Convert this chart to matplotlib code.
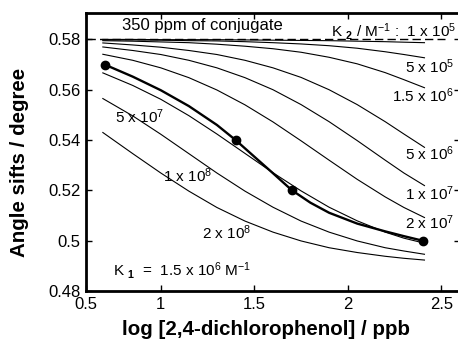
import matplotlib
matplotlib.use("Agg")
import matplotlib.pyplot as plt

plt.rcParams['font.family'] = ['Liberation Sans', 'DejaVu Sans']
plt.rcParams['mathtext.fontset'] = 'custom'
plt.rcParams['mathtext.rm'] = 'Liberation Sans'
plt.rcParams['mathtext.it'] = 'Liberation Sans'
plt.rcParams['mathtext.bf'] = 'Liberation Sans:bold'

# ---- data ----
curve_x = [0.69, 0.85, 1.0, 1.15, 1.3, 1.45, 1.6, 1.75, 1.9, 2.05, 2.2, 2.3, 2.41]
k2_1e5 = [0.5800, 0.5800, 0.5799, 0.5799, 0.5799, 0.5798, 0.5797, 0.5796, 0.5795, 0.5793, 0.5791, 0.5789, 0.5787]
k2_5e5 = [0.5798, 0.5798, 0.5797, 0.5795, 0.5794, 0.5791, 0.5787, 0.5782, 0.5775, 0.5765, 0.5751, 0.5740, 0.5727]
k2_15e6 = [0.5795, 0.5793, 0.5790, 0.5787, 0.5781, 0.5773, 0.5763, 0.5749, 0.5729, 0.5703, 0.5668, 0.5640, 0.5608]
k2_5e6 = [0.5786, 0.5778, 0.5769, 0.5756, 0.5740, 0.5717, 0.5687, 0.5649, 0.5600, 0.5541, 0.5473, 0.5424, 0.5371]
k2_1e7 = [0.5770, 0.5756, 0.5740, 0.5717, 0.5687, 0.5648, 0.5600, 0.5541, 0.5473, 0.5398, 0.5320, 0.5269, 0.5219]
k2_2e7 = [0.5741, 0.5717, 0.5687, 0.5648, 0.5599, 0.5540, 0.5472, 0.5397, 0.5320, 0.5244, 0.5174, 0.5132, 0.5092]
k2_5e7 = [0.5667, 0.5617, 0.5562, 0.5497, 0.5424, 0.5347, 0.5270, 0.5198, 0.5133, 0.5079, 0.5034, 0.5010, 0.4990]
k2_1e8 = [0.5565, 0.5496, 0.5423, 0.5346, 0.5269, 0.5197, 0.5133, 0.5078, 0.5034, 0.4999, 0.4972, 0.4959, 0.4946]
k2_2e8 = [0.5430, 0.5346, 0.5269, 0.5197, 0.5132, 0.5078, 0.5034, 0.4999, 0.4972, 0.4953, 0.4938, 0.4930, 0.4923]
curves = [k2_1e5, k2_5e5, k2_15e6, k2_5e6, k2_1e7, k2_2e7, k2_5e7, k2_1e8, k2_2e8]

conj_x = [0.605, 2.52]
conj_y = [0.58, 0.58]

exp_line_x = [0.7, 0.85, 1.0, 1.15, 1.3, 1.4, 1.5, 1.6, 1.7, 1.8, 1.9, 2.05, 2.2, 2.3, 2.4]
exp_line_y = [0.5700, 0.5652, 0.5598, 0.5535, 0.5460, 0.5400, 0.5334, 0.5268, 0.5201, 0.5151, 0.5111, 0.5068, 0.5037, 0.5018, 0.5000]
exp_x = [0.7, 1.4, 1.7, 2.4]
exp_y = [0.570, 0.540, 0.520, 0.500]

xticks = [0.6, 1.0, 1.5, 2.0, 2.5]
xtick_labels = ['0.5', '1', '1.5', '2', '2.5']
yticks = [0.48, 0.50, 0.52, 0.54, 0.56, 0.58]
ytick_labels = ['0.48', '0.5', '0.52', '0.54', '0.56', '0.58']

W, H = 458, 340
fig = plt.figure(figsize=(W / 100, H / 100), dpi=100)
ax = fig.add_axes([86 / W, (H - 291) / H, 374 / W, 278 / H])

for c in curves:
    ax.plot(curve_x, c, color='black', lw=0.8, solid_joinstyle='round')
ax.plot(conj_x, conj_y, color='black', lw=1.0, dashes=(6, 3))
ax.plot(exp_line_x, exp_line_y, color='black', lw=1.7, solid_joinstyle='round')
ax.plot(exp_x, exp_y, 'o', color='black', ms=6)

ax.set_xlim(0.6, 2.6)
ax.set_ylim(0.48, 0.5905)
ax.set_xticks(xticks)
ax.set_xticklabels(xtick_labels)
ax.set_yticks(yticks)
ax.set_yticklabels(ytick_labels)
ax.tick_params(direction='in', length=4, width=1, labelsize=12,
               top=True, right=True, pad=4)
for s in ax.spines.values():
    s.set_linewidth(2)

ax.set_xlabel('log [2,4-dichlorophenol] / ppb', fontsize=14.8, fontweight='bold', labelpad=6)
ax.xaxis.label.set_x(0.4826)
ax.set_ylabel('Angle sifts / degree', fontsize=14.8, fontweight='bold')
ax.yaxis.set_label_coords(-0.152, 0.462)

fs = 11
ax.text(0.791, 0.5837, '350 ppm of conjugate', fontsize=12, va='baseline', ha='left')
ax.text(2.578, 0.5811, r'K $_{\mathbf{2}}$ / M$^{-1}$ :  1 x 10$^{5}$', fontsize=fs, va='baseline', ha='right')
ax.text(2.567, 0.5667, r'5 x 10$^{5}$', fontsize=fs, va='baseline', ha='right')
ax.text(2.567, 0.5552, r'1.5 x 10$^{6}$', fontsize=fs, va='baseline', ha='right')
ax.text(2.567, 0.5320, r'5 x 10$^{6}$', fontsize=fs, va='baseline', ha='right')
ax.text(2.567, 0.5162, r'1 x 10$^{7}$', fontsize=fs, va='baseline', ha='right')
ax.text(2.567, 0.5045, r'2 x 10$^{7}$', fontsize=fs, va='baseline', ha='right')
ax.text(0.754, 0.5466, r'5 x 10$^{7}$', fontsize=fs, va='baseline', ha='left')
ax.text(1.014, 0.5234, r'1 x 10$^{8}$', fontsize=fs, va='baseline', ha='left')
ax.text(1.219, 0.5005, r'2 x 10$^{8}$', fontsize=fs, va='baseline', ha='left')
ax.text(0.743, 0.4860, r'K $_{\mathbf{1}}$  =  1.5 x 10$^{6}$ M$^{-1}$', fontsize=fs, va='baseline', ha='left')

fig.savefig('out.png', dpi=100)
